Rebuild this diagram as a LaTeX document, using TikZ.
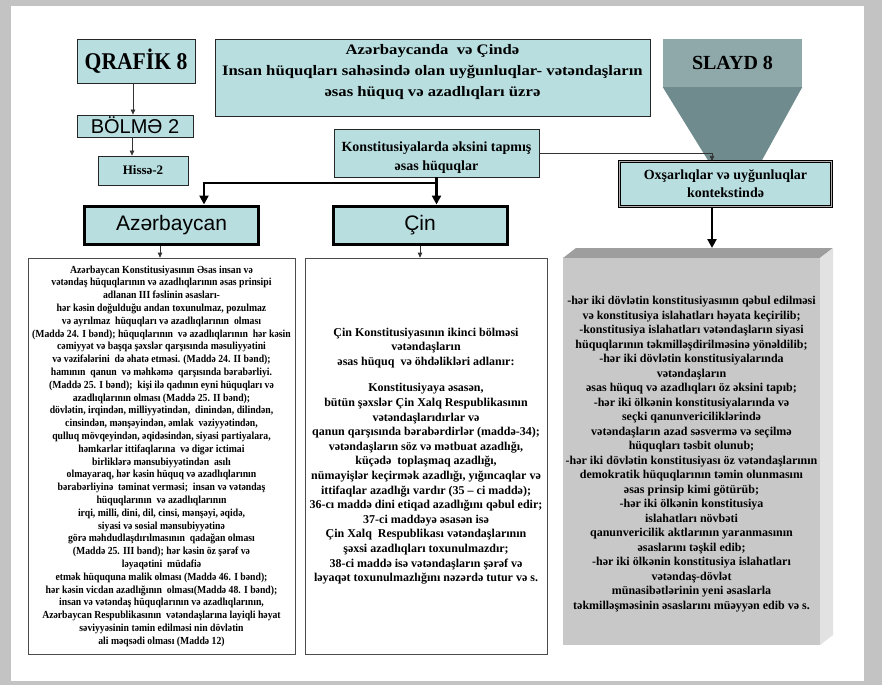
\documentclass[tikz,border=0pt]{standalone}
\usepackage{fontspec}
\setmainfont{Liberation Serif}
\newfontfamily\headfont{Liberation Sans}
\newfontfamily\midfont[FakeStretch=0.9]{Liberation Serif}
\newfontfamily\wideserif[FakeStretch=1.15]{Liberation Serif}
\usetikzlibrary{arrows.meta}

\definecolor{boxcyan}{RGB}{184,222,224}
\definecolor{framegray}{RGB}{195,195,195}
\definecolor{slaydlight}{RGB}{143,168,170}
\definecolor{slayddark}{RGB}{111,139,141}
\definecolor{sumfront}{RGB}{200,200,200}
\definecolor{sumtop}{RGB}{158,158,158}
\definecolor{sumside}{RGB}{226,226,226}

\begin{document}
\begin{tikzpicture}[x=1pt,y=-1pt,
	cyanbox/.style={draw=black!85,line width=0.8pt,fill=boxcyan,align=center,inner sep=0pt},
	headbox/.style={draw=black,line width=3pt,fill=boxcyan,inner sep=0pt,
		minimum width=174pt,minimum height=38pt,font=\headfont\fontsize{21}{24}\selectfont},
	textbox/.style={draw=black!70,line width=0.7pt,fill=white,align=center,inner sep=0pt,minimum height=396pt},
	thinarrow/.style={draw=black!80,line width=0.7pt,-{Triangle[length=5pt,width=4.5pt]}},
	fatarrow/.style={line width=2.8pt,-{Triangle[length=9pt,width=9pt]}}]
	% frame
	\fill[framegray] (0,0) rectangle (882,685);
	\fill[white] (11,6) rectangle (864,681);
	
	% top row
	\node[cyanbox,minimum width=118pt,minimum height=44pt,font=\midfont\bfseries\fontsize{24}{26}\selectfont] (qrafik) at (136,61) {QRAFİK 8};
	\node[cyanbox,minimum width=435pt,minimum height=77pt,text depth=14pt,font=\wideserif\bfseries\fontsize{14.5}{21}\selectfont] (title) at (432.5,77.5)
	{Azərbaycanda\ \ və Çində\\Insan hüquqları sahəsində olan uyğunluqlar- vətəndaşların\\əsas hüquq və azadlıqları üzrə};
	\node[fill=slaydlight,minimum width=139pt,minimum height=48pt,inner sep=0pt,font=\bfseries\fontsize{20}{22}\selectfont] (slayd) at (732.5,63) {SLAYD 8};
	\fill[slayddark] (slayd.south west) -- (slayd.south east) -- (761,162) -- (709,162) -- cycle;
	
	% left column
	\node[cyanbox,minimum width=116pt,minimum height=22pt,text height=14.5pt,text depth=0pt,font=\headfont\fontsize{20}{22}\selectfont] (bolme) at (135,126) {BÖLMƏ 2};
	\node[cyanbox,minimum width=90pt,minimum height=29pt,font=\bfseries\fontsize{13}{15}\selectfont] (hisse) at (143,170.5) {Hissə-2};
	\foreach \a/\b in {qrafik/bolme, bolme/hisse}{
		\draw[thinarrow] ([xshift=-3pt]\a.south) -- ([xshift=-3pt]\a.south |- \b.north);
	}
	
	% middle
	\node[cyanbox,minimum width=205pt,minimum height=48pt,text height=38pt,font=\bfseries\fontsize{14}{19}\selectfont] (konst) at (436.5,153)
	{Konstitusiyalarda əksini tapmış\\əsas hüquqlar};
	\node[cyanbox,draw=black,line width=1.1pt,double=gray!60,double distance=1.6pt,minimum width=212pt,minimum height=45pt,
		font=\bfseries\fontsize{14}{18}\selectfont] (oxsar) at (725.5,184) {Oxşarlıqlar və uyğunluqlar\\kontekstində};
	\node[headbox] (azhead) at (171.5,225) {Azərbaycan};
	\node[headbox] (cinhead) at (420,225) {Çin};
	
	\coordinate (split) at (436.5,183);
	\draw[line width=2.8pt] (konst.south) -- (split);
	\draw[fatarrow] ([xshift=1.4pt]split) -| ([xshift=32.5pt]azhead.north);
	\draw[fatarrow] (split) -- (cinhead.north -| split);
	\draw[thinarrow] (konst.east) -| ([xshift=-13.5pt]oxsar.north);
	
	% text boxes
	\node[textbox,minimum width=267pt,font=\midfont\bfseries\fontsize{10.8}{12.8}\selectfont] (aztext) at (161.5,456)
	{Azərbaycan Konstitusiyasının Əsas insan və\\
	vətəndaş hüquqlarının və azadlıqlarının əsas prinsipi\\
	adlanan III fəslinin əsasları-\\
	hər kəsin doğulduğu andan toxunulmaz, pozulmaz\\
	və ayrılmaz\ \ hüquqları və azadlıqlarının\ \ olması\\
	(Maddə 24. I bənd); hüquqlarının\ \ və azadlıqlarının\ \ hər kəsin\\
	cəmiyyət və başqa şəxslər qarşısında məsuliyyətini\\
	və vəzifələrini\ \ də əhatə etməsi. (Maddə 24. II bənd);\\
	hamının\ \ qanun\ \ və məhkəmə\ \ qarşısında bərabərliyi.\\
	(Maddə 25. I bənd);\ \ kişi ilə qadının eyni hüquqları və\\
	azadlıqlarının olması (Maddə 25. II bənd);\\
	dövlətin, irqindən, milliyyətindən,\ \ dinindən, dilindən,\\
	cinsindən, mənşəyindən, əmlak\ \ vəziyyətindən,\\
	qulluq mövqeyindən, əqidəsindən, siyasi partiyalara,\\
	həmkarlar ittifaqlarına\ \ və digər ictimai\\
	birliklərə mənsubiyyətindən\ \ asılı\\
	olmayaraq, hər kəsin hüquq və azadlıqlarının\\
	bərabərliyinə\ \ təminat verməsi;\ \ insan və vətəndaş\\
	hüquqlarının\ \ və azadlıqlarının\\
	irqi, milli, dini, dil, cinsi, mənşəyi, əqidə,\\
	siyasi və sosial mənsubiyyətinə\\
	görə məhdudlaşdırılmasının\ \ qadağan olması\\
	(Maddə 25. III bənd); hər kəsin öz şərəf və\\
	ləyaqətini\ \ müdafiə\\
	etmək hüququna malik olması (Maddə 46. I bənd);\\
	hər kəsin vicdan azadlığının\ \ olması(Maddə 48. I bənd);\\
	insan və vətəndaş hüquqlarının və azadlıqlarının,\\
	Azərbaycan Respublikasının\ \ vətəndaşlarına layiqli həyat\\
	səviyyəsinin təmin edilməsi nin dövlətin\\
	ali məqsədi olması (Maddə 12)};
	\node[textbox,minimum width=242pt,font=\bfseries\fontsize{12}{14.6}\selectfont] (cintext) at (426,456)
	{Çin Konstitusiyasının ikinci bölməsi\\
	vətəndaşların\\
	əsas hüquq\ \ və öhdəlikləri adlanır:\\[12pt]
	Konstitusiyaya əsasən,\\
	bütün şəxslər Çin Xalq Respublikasının\\
	vətəndaşlarıdırlar və\\
	qanun qarşısında bərabərdirlər (maddə-34);\\
	vətəndaşların söz və mətbuat azadlığı,\\
	küçədə\ \ toplaşmaq azadlığı,\\
	nümayişlər keçirmək azadlığı, yığıncaqlar və\\
	ittifaqlar azadlığı vardır (35 -- ci maddə);\\
	36-cı maddə dini etiqad azadlığını qəbul edir;\\
	37-ci maddəyə əsasən isə\\
	Çin Xalq\ \ Respublikası vətəndaşlarının\\
	şəxsi azadlıqları toxunulmazdır;\\
	38-ci maddə isə vətəndaşların şərəf və\\
	ləyaqət toxunulmazlığını nəzərdə tutur və s.};
	\coordinate (azout) at ([xshift=-11.5pt]azhead.south);
	\draw[thinarrow] (azout) -- (azout |- aztext.north);
	\draw[thinarrow] (cinhead.south) -- (cinhead.south |- cintext.north);
	
	% summary block
	\fill[sumtop] (563,258) -- (576,248) -- (833,248) -- (820,258) -- cycle;
	\fill[sumside] (820,258) -- (833,248) -- (833,635) -- (820,645) -- cycle;
	\fill[sumfront] (563,258) rectangle (820,645);
	\coordinate (sumin) at (712,248);
	\draw[fatarrow] ([xshift=-13.5pt]oxsar.south) -- (sumin);
	\node[align=center,font=\bfseries\fontsize{12}{14.5}\selectfont] (summary) at (691.5,454)
	{-hər iki dövlətin konstitusiyasının qəbul edilməsi\\
	və konstitusiya islahatları həyata keçirilib;\\
	-konstitusiya islahatları vətəndaşların siyasi\\
	hüquqlarının təkmilləşdirilməsinə yönəldilib;\\
	-hər iki dövlətin konstitusiyalarında\\
	vətəndaşların\\
	əsas hüquq və azadlıqları öz əksini tapıb;\\
	-hər iki ölkənin konstitusiyalarında və\\
	seçki qanunvericiliklərində\\
	vətəndaşların azad səsvermə və seçilmə\\
	hüquqları təsbit olunub;\\
	-hər iki dövlətin konstitusiyası öz vətəndaşlarının\\
	demokratik hüquqlarının təmin olunmasını\\
	əsas prinsip kimi götürüb;\\
	-hər iki ölkənin konstitusiya\\
	islahatları növbəti\\
	qanunvericilik aktlarının yaranmasının\\
	əsaslarını təşkil edib;\\
	-hər iki ölkənin konstitusiya islahatları\\
	vətəndaş-dövlət\\
	münasibətlərinin yeni əsaslarla\\
	təkmilləşməsinin əsaslarını müəyyən edib və s.};
\end{tikzpicture}
\end{document}
